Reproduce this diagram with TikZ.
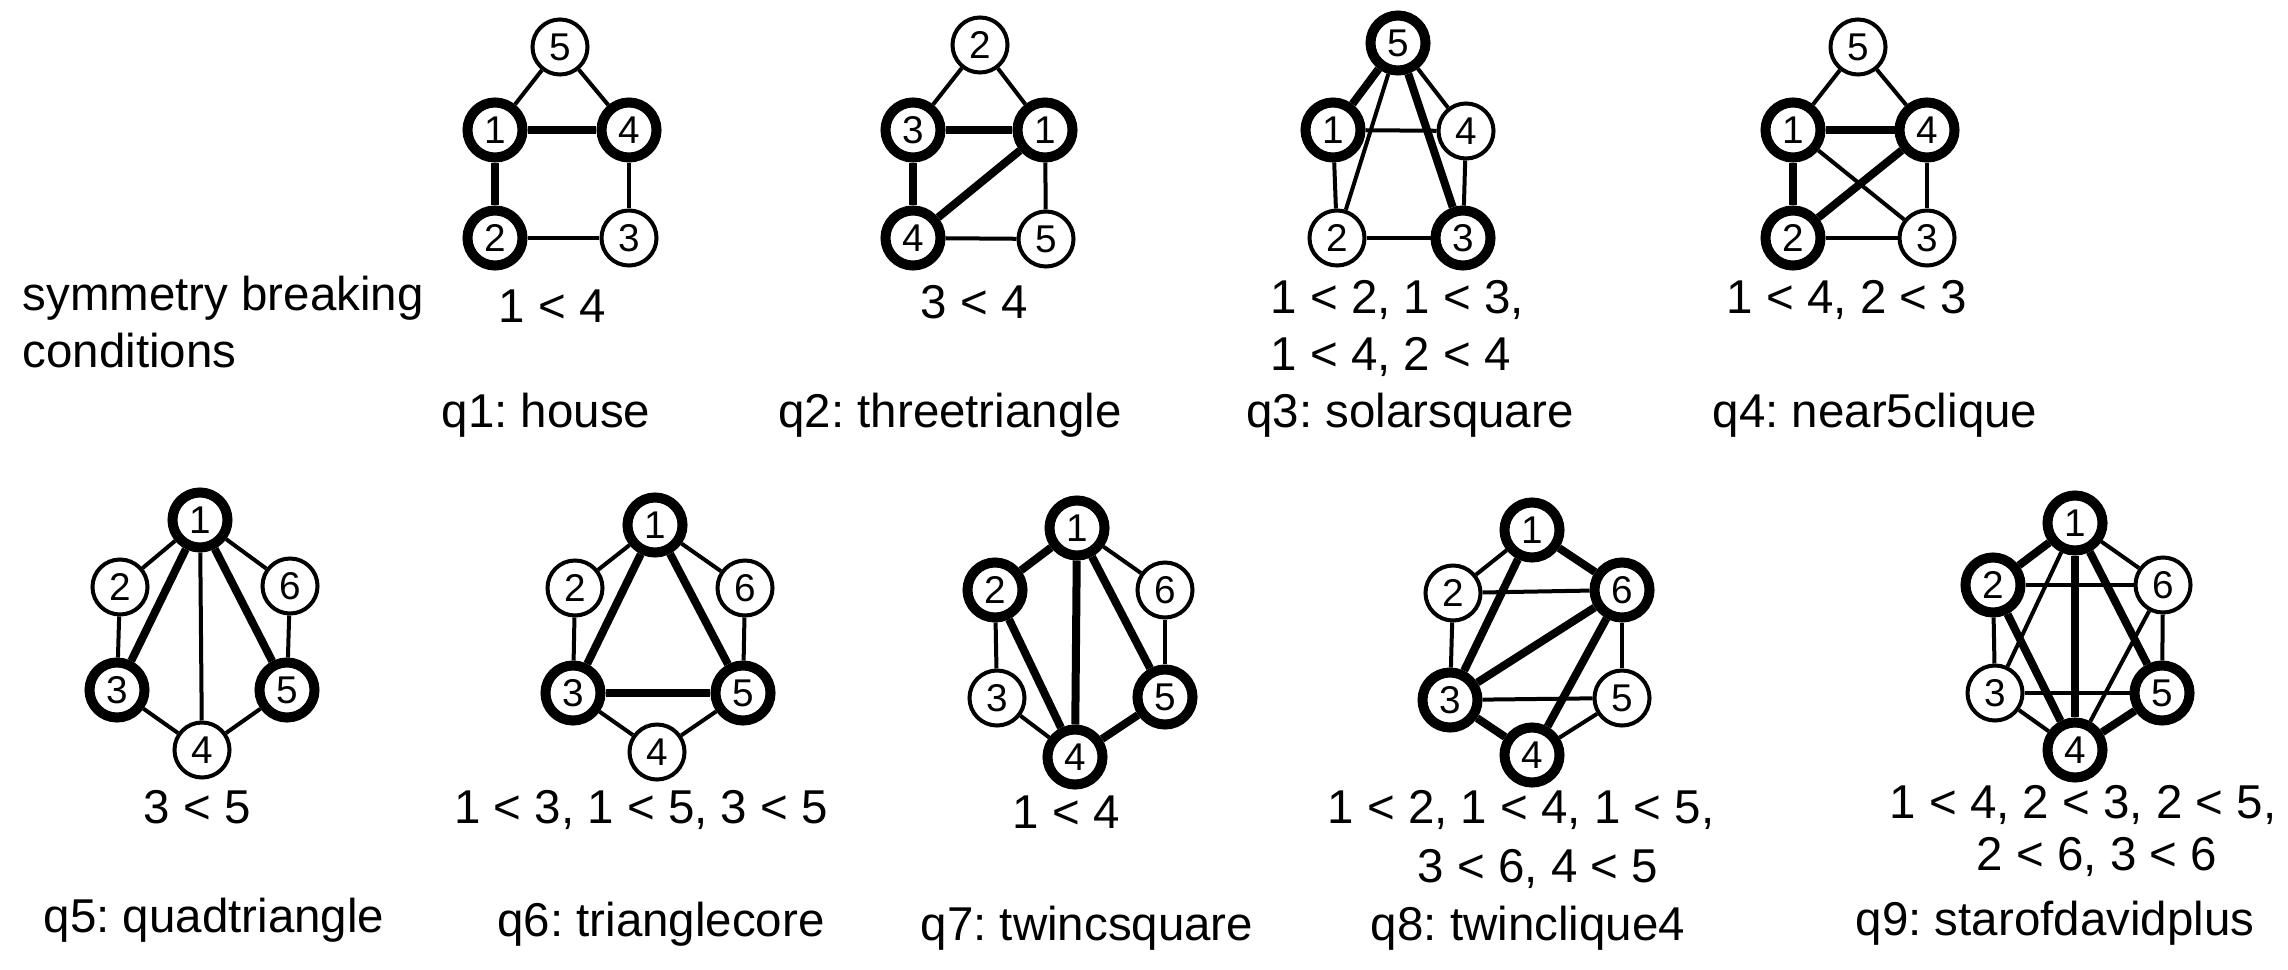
\documentclass[tikz,border=0pt]{standalone}
\usepackage{fontspec}
\setmainfont{Liberation Sans}
\frenchspacing
\newcommand\myvfont{\fontsize{11}{12}\selectfont}
\newcommand\mylfont{\fontsize{13.5}{16}\selectfont}
\tikzset{
  vtx/.style={circle, draw, fill=white, line width=0.04cm, minimum size=0.55cm, inner sep=0pt, font=\myvfont},
  hv/.style={vtx, line width=0.10cm},
  te/.style={line width=0.04cm},
  he/.style={line width=0.08cm},
  lbl/.style={anchor=base, font=\mylfont, inner sep=0pt},
  lblw/.style={anchor=base west, font=\mylfont, inner sep=0pt},
}
\begin{document}
\begin{tikzpicture}[x=0.01cm, y=-0.01cm]
\useasboundingbox (0,0) rectangle (2288,970);

% ---------- q1: house ----------
\node[vtx] (a5) at (560,47) {5};
\node[hv]  (a1) at (495,130) {1};
\node[hv]  (a4) at (629,130) {4};
\node[hv]  (a2) at (495,238) {2};
\node[vtx] (a3) at (629,238) {3};
\draw[te] (a5) -- (a1); \draw[te] (a5) -- (a4);
\draw[he] (a1) -- (a4); \draw[he] (a1) -- (a2);
\draw[te] (a4) -- (a3); \draw[te] (a2) -- (a3);

% ---------- q2: threetriangle ----------
\node[vtx] (b2) at (980,45) {2};
\node[hv]  (b3) at (913,130) {3};
\node[hv]  (b1) at (1045,130) {1};
\node[hv]  (b4) at (913,238) {4};
\node[vtx] (b5) at (1046,239) {5};
\draw[te] (b2) -- (b3); \draw[te] (b2) -- (b1);
\draw[he] (b3) -- (b1); \draw[he] (b3) -- (b4); \draw[he] (b1) -- (b4);
\draw[te] (b1) -- (b5); \draw[te] (b4) -- (b5);

% ---------- q3: solarsquare ----------
\node[hv]  (c5) at (1398,43) {5};
\node[hv]  (c1) at (1333,130) {1};
\node[vtx] (c4) at (1466,131) {4};
\node[vtx] (c2) at (1337,238) {2};
\node[hv]  (c3) at (1463,238) {3};
\draw[he] (c5) -- (c1); \draw[he] (c5) -- (c3);
\draw[te] (c5) -- (c4); \draw[te] (c5) -- (c2);
\draw[te] (c1) -- (c4); \draw[te] (c1) -- (c2);
\draw[te] (c4) -- (c3); \draw[te] (c2) -- (c3);

% ---------- q4: near5clique ----------
\node[vtx] (d5) at (1858,47) {5};
\node[hv]  (d1) at (1793,130) {1};
\node[hv]  (d4) at (1927,130) {4};
\node[hv]  (d2) at (1793,238) {2};
\node[vtx] (d3) at (1927,238) {3};
\draw[te] (d5) -- (d1); \draw[te] (d5) -- (d4);
\draw[he] (d1) -- (d4); \draw[he] (d1) -- (d2); \draw[he] (d2) -- (d4);
\draw[te] (d1) -- (d3); \draw[te] (d4) -- (d3); \draw[te] (d2) -- (d3);

% ---------- q5: quadtriangle ----------
\node[hv]  (e1) at (200,520) {1};
\node[vtx] (e2) at (120,587) {2};
\node[vtx] (e6) at (290,586) {6};
\node[hv]  (e3) at (117,690) {3};
\node[hv]  (e5) at (287,690) {5};
\node[vtx] (e4) at (202,750) {4};
\draw[te] (e1) -- (e2); \draw[te] (e1) -- (e6);
\draw[te] (e2) -- (e3); \draw[te] (e6) -- (e5);
\draw[he] (e1) -- (e3); \draw[he] (e1) -- (e5);
\draw[te] (e1) -- (e4); \draw[te] (e3) -- (e4); \draw[te] (e5) -- (e4);

% ---------- q6: trianglecore ----------
\node[hv]  (f1) at (655,525) {1};
\node[vtx] (f2) at (575,588) {2};
\node[vtx] (f6) at (745,588) {6};
\node[hv]  (f3) at (573,693) {3};
\node[hv]  (f5) at (743,693) {5};
\node[vtx] (f4) at (657,752) {4};
\draw[te] (f1) -- (f2); \draw[te] (f1) -- (f6);
\draw[te] (f2) -- (f3); \draw[te] (f6) -- (f5);
\draw[he] (f1) -- (f3); \draw[he] (f1) -- (f5); \draw[he] (f3) -- (f5);
\draw[te] (f3) -- (f4); \draw[te] (f5) -- (f4);

% ---------- q7: twincsquare ----------
\node[hv]  (g1) at (1077,528) {1};
\node[hv]  (g2) at (995,590) {2};
\node[vtx] (g6) at (1165,590) {6};
\node[vtx] (g3) at (997,698) {3};
\node[hv]  (g5) at (1165,697) {5};
\node[hv]  (g4) at (1075,757) {4};
\draw[he] (g1) -- (g2); \draw[te] (g1) -- (g6);
\draw[te] (g2) -- (g3); \draw[te] (g6) -- (g5);
\draw[he] (g2) -- (g4); \draw[he] (g1) -- (g4); \draw[he] (g1) -- (g5);
\draw[te] (g3) -- (g4); \draw[he] (g4) -- (g5);

% ---------- q8: twinclique4 ----------
\node[hv]  (h1) at (1532,530) {1};
\node[vtx] (h2) at (1453,593) {2};
\node[hv]  (h6) at (1622,590) {6};
\node[hv]  (h3) at (1450,700) {3};
\node[vtx] (h5) at (1622,698) {5};
\node[hv]  (h4) at (1532,755) {4};
\draw[te] (h1) -- (h2); \draw[he] (h1) -- (h6);
\draw[te] (h2) -- (h3); \draw[te] (h6) -- (h5);
\draw[te] (h2) -- (h6);
\draw[he] (h1) -- (h3); \draw[he] (h3) -- (h6); \draw[he] (h6) -- (h4);
\draw[te] (h3) -- (h5); \draw[he] (h3) -- (h4); \draw[te] (h4) -- (h5);

% ---------- q9: starofdavidplus ----------
\node[hv]  (k1) at (2075,523) {1};
\node[hv]  (k2) at (1993,585) {2};
\node[vtx] (k6) at (2163,585) {6};
\node[vtx] (k3) at (1995,693) {3};
\node[hv]  (k5) at (2162,693) {5};
\node[hv]  (k4) at (2075,750) {4};
\draw[he] (k1) -- (k2); \draw[te] (k1) -- (k6);
\draw[te] (k2) -- (k3); \draw[te] (k6) -- (k5);
\draw[te] (k2) -- (k6); \draw[te] (k1) -- (k3);
\draw[he] (k2) -- (k4); \draw[he] (k1) -- (k4); \draw[he] (k1) -- (k5);
\draw[te] (k6) -- (k4); \draw[te] (k3) -- (k5);
\draw[te] (k3) -- (k4); \draw[he] (k4) -- (k5);

% ---------- texts ----------
\node[lblw] (sb1) at (22,310) {symmetry breaking};
\node[lblw] (sb2) at (22,367) {conditions};

\node[lbl] (c1t) at (552,322) {1 < 4};
\node[lbl] (c2t) at (974,318) {3 < 4};
\node[lblw] (c3ta) at (1270,313) {1 < 2, 1 < 3,};
\node[lblw] (c3tb) at (1270,370) {1 < 4, 2 < 4};
\node[lbl] (c4t) at (1847,313) {1 < 4, 2 < 3};

\node[lbl] (t1) at (546,427) {q1: house};
\node[lbl] (t2) at (950,427) {q2: threetriangle};
\node[lbl] (t3) at (1410,427) {q3: solarsquare};
\node[lbl] (t4) at (1875,427) {q4: near5clique};

\node[lbl] (c5t) at (197,823) {3 < 5};
\node[lbl] (c6t) at (641,823) {1 < 3, 1 < 5, 3 < 5};
\node[lbl] (c7t) at (1066,828) {1 < 4};
\node[lbl] (c8ta) at (1521,823) {1 < 2, 1 < 4, 1 < 5,};
\node[lbl] (c8tb) at (1538,882) {3 < 6, 4 < 5};
\node[lbl] (c9ta) at (2083,818) {1 < 4, 2 < 3, 2 < 5,};
\node[lbl] (c9tb) at (2097,870) {2 < 6, 3 < 6};

\node[lbl] (t5) at (214,932) {q5: quadtriangle};
\node[lbl] (t6) at (661,936) {q6: trianglecore};
\node[lbl] (t7) at (1087,940) {q7: twincsquare};
\node[lbl] (t8) at (1528,940) {q8: twinclique4};
\node[lbl] (t9) at (2055,935) {q9: starofdavidplus};
\end{tikzpicture}
\end{document}
